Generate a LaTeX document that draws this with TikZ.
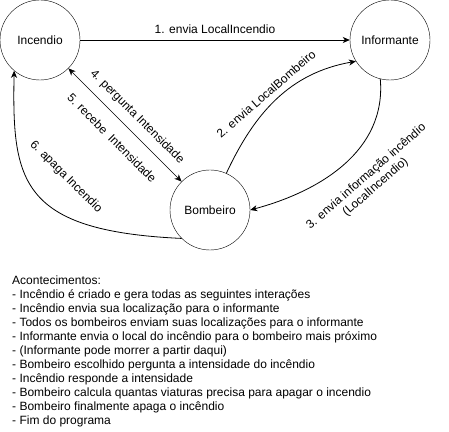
\documentclass[tikz,border=0pt]{standalone}
\usepackage{fontspec}
\setmainfont{Liberation Sans}
\usetikzlibrary{arrows.meta}

\begin{document}
\begin{tikzpicture}[x=1pt,y=1pt,font=\fontsize{12}{14}\selectfont,
    agent/.style={circle,draw,minimum size=80pt,inner sep=0pt},
    msg/.style={->,line width=0.8pt},
    >={Stealth[length=7pt,width=6pt,inset=2pt]}]
    \useasboundingbox (0,0) rectangle (449,431);
    \node[agent] (incendio) at (40,391) {Incendio};
    \node[agent] (informante) at (390,391) {Informante};
    \node[agent] (bombeiro) at (210,221) {Bombeiro};
    \draw[msg] (incendio) -- (informante) node[midway,above=3pt] (l1) {1. envia LocalIncendio};
    \draw[msg] (bombeiro.66) to[out=65,in=190] (informante.212);
    \draw[msg] (informante.256) to[out=-85,in=15] (bombeiro.0);
    \draw[<->,line width=0.5pt] (incendio.-45) -- (bombeiro.135);
    \draw[msg] (bombeiro.225) .. controls (20,200) and (12,250) .. (incendio.230);
    \node[rotate=41] (l2) at (266,337) {2. envia LocalBombeiro};
    \node[rotate=41,align=center] (l3) at (371,249) {3. envia informação incêndio\\(LocalIncendio)};
    \node[rotate=-45] (l4) at (137,314) {4. pergunta Intensidade};
    \node[rotate=-45] (l5) at (112,293) {5. recebe~ Intensidade};
    \node[rotate=-45] (l6) at (66,254) {6. apaga Incendio};
    \node[anchor=north west,inner sep=0pt,align=left] (eventos) at (12,155) {Acontecimentos:\\
        - Incêndio é criado e gera todas as seguintes interações\\
        - Incêndio envia sua localização para o informante\\
        - Todos os bombeiros enviam suas localizações para o informante\\
        - Informante envia o local do incêndio para o bombeiro mais próximo\\
        - (Informante pode morrer a partir daqui)\\
        - Bombeiro escolhido pergunta a intensidade do incêndio\\
        - Incêndio responde a intensidade\\
        - Bombeiro calcula quantas viaturas precisa para apagar o incendio\\
        - Bombeiro finalmente apaga o incêndio\\
        - Fim do programa};
\end{tikzpicture}
\end{document}
